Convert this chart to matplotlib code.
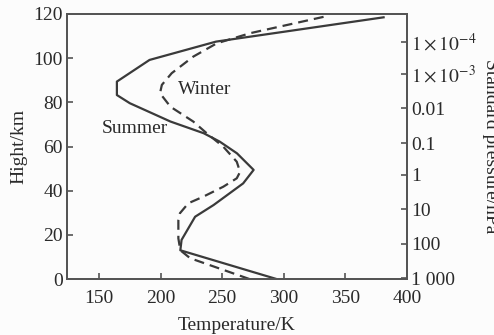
import matplotlib
matplotlib.use("Agg")
import matplotlib.pyplot as plt

plt.rcParams['font.family'] = ['Liberation Serif', 'DejaVu Serif']
plt.rcParams['mathtext.fontset'] = 'stix'

# Summer profile (temperature K vs height km)
summer_h = [0, 13, 17.7, 28.2, 33.5, 43.3, 49.4, 56.9, 62.2, 66, 71.3, 79.6, 83.3, 89.4, 99.2, 107.5, 118.5]
summer_T = [294, 216, 217, 228, 243, 267, 275.5, 262, 248, 235, 208, 175, 164.5, 164.5, 191, 245, 381]

# Winter profile
winter_h = [0, 9.4, 13, 18.4, 26.7, 29.8, 34.3, 37.3, 41.8, 45.6, 48.5, 53.1, 59.9, 66, 71.3, 78,
            84.1, 87.9, 93.2, 100.7, 106.7, 111.3, 118.8]
winter_T = [272, 224, 216, 214.4, 214.4, 215.7, 222.5, 234.7, 250.9, 261.8, 264.5, 261.8, 250.9,
            237.4, 226.5, 208, 199.5, 201, 209, 226.5, 245.5, 272.6, 333]

x_ticks = [150, 200, 250, 300, 350, 400]
y_ticks = [0, 20, 40, 60, 80, 100, 120]
pressure_labels = [r"$1\times10^{-4}$", r"$1\times10^{-3}$", "0.01", "0.1", "1", "10", "100", "1 000"]
pressure_heights = [107.5, 92.8, 77.3, 61.5, 47.1, 31.6, 15.9, 0.3]

line_c = '#3a3a3a'
spine_c = '#555555'
text_c = '#2a2a2a'
fs = 14

fig = plt.figure(figsize=(4.94, 3.35), dpi=100, facecolor='#fcfcfc')
ax = fig.add_axes([67/494, 56/335, 340/494, 265/335])
ax.set_facecolor('#fcfcfc')

ax.plot(summer_T, summer_h, color=line_c, lw=1.6, solid_joinstyle='round')
ax.plot(winter_T, winter_h, color=line_c, lw=1.6, dashes=(4.5, 2.7))

ax.set_xlim(124, 400)
ax.set_ylim(0, 120)
ax.set_xticks(x_ticks)
ax.set_yticks(y_ticks)
ax.tick_params(direction='in', length=4, width=1.2, colors=spine_c, labelcolor=text_c,
               labelsize=fs, pad=3)
ax.tick_params(axis='x', pad=8)
for s in ax.spines.values():
    s.set_color(spine_c)
    s.set_linewidth(1.4)

ax.set_xlabel("Temperature/K", fontsize=fs, color=text_c, labelpad=7)
ax.set_ylabel("Hight/km", fontsize=fs, color=text_c, labelpad=4)

ax2 = ax.twinx()
ax2.set_ylim(0, 120)
ax2.set_yticks(pressure_heights)
ax2.set_yticklabels(pressure_labels)
ax2.tick_params(direction='in', length=4, width=1.2, colors=spine_c, labelcolor=text_c,
                labelsize=fs, pad=3)
for s in ax2.spines.values():
    s.set_color(spine_c)
    s.set_linewidth(1.4)
ax2.set_ylabel("Standard pressure/hPa", fontsize=fs, color=text_c, rotation=270, labelpad=16)

ax.text(214.4, 85.6, "Winter", fontsize=fs, color=text_c, va='center', ha='left')
ax.text(152.2, 68.2, "Summer", fontsize=fs, color=text_c, va='center', ha='left')

fig.savefig("out.png", dpi=100, facecolor=fig.get_facecolor())
